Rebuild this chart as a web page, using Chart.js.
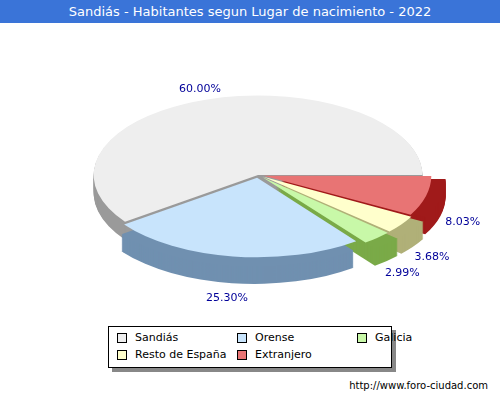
<!DOCTYPE html>
<html>
<head>
<meta charset="utf-8">
<script src="https://cdn.jsdelivr.net/npm/chart.js@4/dist/chart.umd.min.js"></script>
<style>
  body { margin: 0; width: 500px; height: 400px; background: #fff; font-family: "DejaVu Sans", sans-serif; position: relative; overflow: hidden; }
  #title { position: absolute; left: 0; top: 0; width: 500px; height: 23px; background: #3a74d8; color: #fff; font-size: 13px; line-height: 23px; text-align: center; }
  #wrap { position: absolute; left: 0; top: 23px; width: 500px; height: 300px; }
  #legend { position: absolute; left: 108px; top: 326px; width: 282px; height: 40px; border: 1px solid #000; background: #fff; box-shadow: 4px 4px 0 #888; font-size: 11px; }
  .it { position: absolute; display: flex; align-items: center; }
  .sw { width: 8px; height: 8px; border: 1px solid #000; margin-right: 8px; }
  #foot { position: absolute; right: 12px; top: 380px; font-size: 10px; color: #000; }
</style>
</head>
<body>
<div id="title">Sandiás - Habitantes segun Lugar de nacimiento - 2022</div>
<div id="wrap"><canvas id="c"></canvas></div>
<div id="legend"></div>
<div id="foot">http://www.foro-ciudad.com</div>
<script>
// drawing order (clockwise from 3 o'clock)
const labels = ['Extranjero', 'Resto de España', 'Galicia', 'Orense', 'Sandiás'];
const values = [8.03, 3.68, 2.99, 25.30, 60.00];
const colors = ['#e87474', '#ffffcc', '#c8f8a8', '#c8e4fc', '#eeeeee'];
const sides = ['#a01a1a', '#b0b078', '#7aaa48', '#7090b0', '#9a9a9a'];
const offsets = [20, 22, 22, 20, 0];
const legendOrder = ['Sandiás', 'Orense', 'Galicia', 'Resto de España', 'Extranjero'];

const SX = 1.2, SY = 0.58, DEPTH = 18;

// legend
const lg = document.getElementById('legend');
legendOrder.forEach((name, i) => {
    const k = labels.indexOf(name);
    const d = document.createElement('div');
    d.className = 'it';
    d.style.left = (8 + (i % 3) * 120) + 'px';
    d.style.top = (i < 3 ? 4 : 21) + 'px';
    d.innerHTML = '<span class="sw" style="background:' + colors[k] + '"></span>' + name;
    lg.appendChild(d);
});

function shifted(arc) {
    const mid = (arc.startAngle + arc.endAngle) / 2;
    const o = arc.options.offset || 0;
    return { x: arc.x + Math.cos(mid) * o, y: arc.y + Math.sin(mid) * o, mid };
}

const pie3d = {
    id: 'pie3d',
    beforeDatasetsDraw(chart) {
        const ctx = chart.ctx;
        const arcs = chart.getDatasetMeta(0).data;
        const cx = arcs[0].x, cy = arcs[0].y;
        ctx.save();
        ctx.translate(cx, cy);
        ctx.scale(SX, SY);
        ctx.translate(-cx, -cy);
        // side walls
        for (let d = DEPTH; d > 0; d--) {
            arcs.forEach((a, i) => {
                const s = shifted(a);
                ctx.fillStyle = sides[i];
                ctx.beginPath();
                ctx.moveTo(s.x, s.y + d / SY);
                ctx.arc(s.x, s.y + d / SY, a.outerRadius, a.startAngle, a.endAngle);
                ctx.closePath();
                ctx.fill();
            });
        }
    },
    afterDatasetsDraw(chart) {
        const ctx = chart.ctx;
        ctx.restore();
        const arcs = chart.getDatasetMeta(0).data;
        const cx = arcs[0].x, cy = arcs[0].y;
        ctx.font = '11px "DejaVu Sans"';
        ctx.fillStyle = '#000099';
        ctx.textAlign = 'center';
        ctx.textBaseline = 'middle';
        arcs.forEach((a, i) => {
            const s = shifted(a);
            const r = a.outerRadius * 1.14;
            const down = Math.sin(s.mid) > 0 ? DEPTH + 4 : 0;
            const x = cx + (s.x - cx + Math.cos(s.mid) * r) * SX;
            const y = cy + (s.y - cy + Math.sin(s.mid) * r) * SY + down;
            ctx.fillText(values[i].toFixed(2) + '%', Math.min(x, 468), y);
        });
    }
};

new Chart(document.getElementById('c'), {
    type: 'pie',
    data: {
        labels: labels,
        datasets: [{
            data: values,
            backgroundColor: colors,
            borderWidth: 0,
            offset: offsets
        }]
    },
    options: {
        responsive: true,
        maintainAspectRatio: false,
        animation: false,
        rotation: 90,
        layout: { padding: { left: 16, right: 0, top: 4, bottom: 0 } },
        plugins: { legend: { display: false }, tooltip: { enabled: false } }
    },
    plugins: [pie3d]
});
</script>
</body>
</html>
